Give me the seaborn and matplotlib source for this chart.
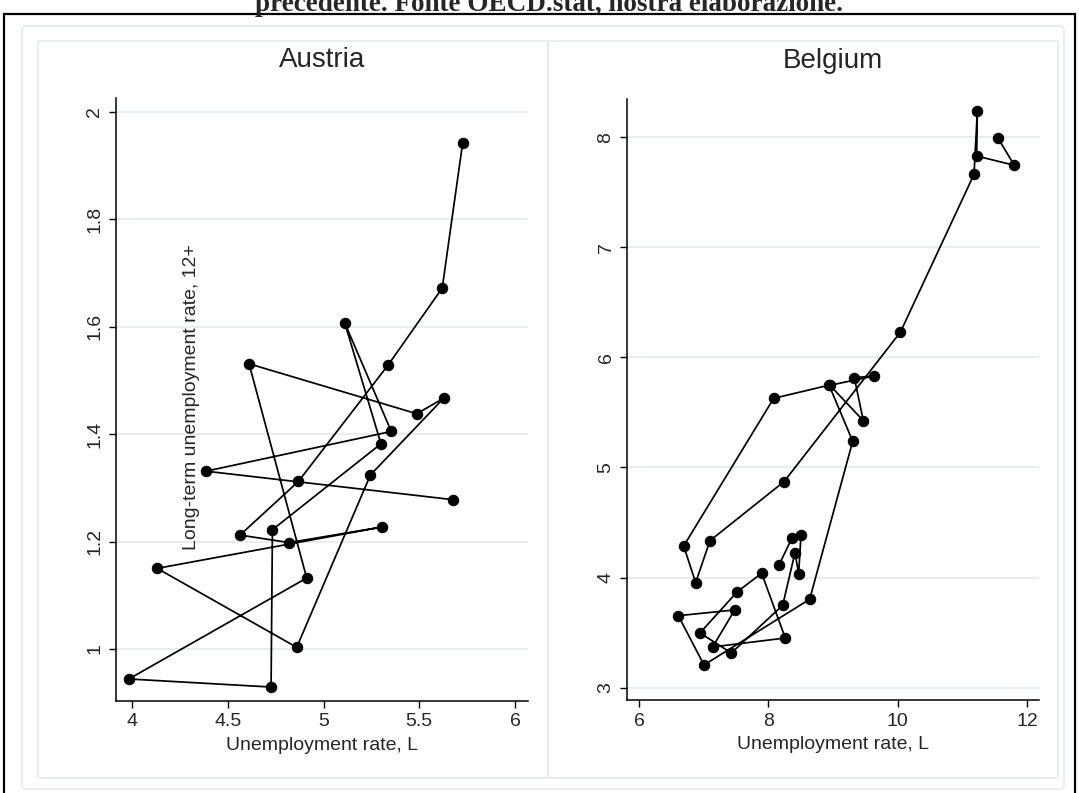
import numpy as np
import pandas as pd
import seaborn as sns
import matplotlib.pyplot as plt
from matplotlib.patches import Rectangle, FancyBboxPatch

# Data, in plotting order (connected scatter)
austria_unemp = [5.675, 4.386, 5.354, 5.111, 5.300, 4.733, 4.726, 3.983, 4.912, 4.611, 5.487,
                 5.628, 5.245, 4.860, 4.131, 5.305, 4.820, 4.564, 4.869, 5.338, 5.620, 5.727]
austria_ltu = [1.278, 1.331, 1.405, 1.607, 1.382, 1.222, 0.929, 0.944, 1.132, 1.531, 1.438,
               1.467, 1.324, 1.003, 1.150, 1.227, 1.198, 1.212, 1.312, 1.529, 1.672, 1.943]

belgium_unemp = [11.544, 11.801, 11.219, 11.229, 11.178, 10.039, 8.241, 7.097, 6.876, 6.691,
                 8.082, 8.947, 9.467, 9.328, 9.632, 8.940, 9.303, 8.638, 7.005, 6.608, 7.479,
                 7.139, 8.261, 7.896, 7.520, 6.943, 7.427, 8.221, 8.411, 8.468, 8.504, 8.365, 8.164]
belgium_ltu = [7.995, 7.745, 7.829, 8.235, 7.663, 6.228, 4.871, 4.335, 3.954, 4.287,
               5.628, 5.749, 5.425, 5.816, 5.831, 5.745, 5.238, 3.803, 3.206, 3.654, 3.706,
               3.370, 3.451, 4.039, 3.872, 3.497, 3.315, 3.748, 4.226, 4.035, 4.390, 4.360, 4.114]

austria_xticks = [4, 4.5, 5, 5.5, 6]
austria_xlabels = ['4', '4.5', '5', '5.5', '6']
austria_yticks = [1, 1.2, 1.4, 1.6, 1.8, 2]
austria_ylabels = ['1', '1.2', '1.4', '1.6', '1.8', '2']
belgium_xticks = [6, 8, 10, 12]
belgium_yticks = [3, 4, 5, 6, 7, 8]

title_text = 'precedente. Fonte OECD.stat, nostra elaborazione.'
xlabel_text = 'Unemployment rate, L'
ylabel_text = 'Long-term unemployment rate, 12+'

sns.set_style('white')
plt.rcParams['font.family'] = ['Liberation Sans', 'DejaVu Sans']

W, H = 1079, 793
fig = plt.figure(figsize=(W / 100, H / 100), dpi=100)

# frames around the graph
fig.patches.append(Rectangle((4 / W, -0.05), 1071 / W, 1.05 - 14 / H, transform=fig.transFigure,
                             fill=False, edgecolor='black', linewidth=1.6))
fig.patches.append(FancyBboxPatch((22 / W, 4 / H), 1042 / W, (H - 26 - 4) / H,
                                  boxstyle='round,pad=0,rounding_size=0.004', transform=fig.transFigure,
                                  fill=False, edgecolor='#e3ecee', linewidth=1.2))
for left in (38, 548):
    fig.patches.append(Rectangle((left / W, (H - 778) / H), 510 / W, (778 - 41) / H,
                                 transform=fig.transFigure, fill=False,
                                 edgecolor='#e3ecee', linewidth=1.2))

# the headline is cut by the top edge in the original too
fig.text(549 / W, 1 - 11 / H, title_text, ha='center', va='baseline',
         family=['Liberation Serif', 'DejaVu Serif'], fontweight='bold', fontsize=19.5)

ax1 = fig.add_axes([116 / W, 1 - 701 / H, 412 / W, 603 / H])
ax2 = fig.add_axes([627 / W, 1 - 700 / H, 412 / W, 601 / H])

panels = [
    (ax1, 'Austria', austria_unemp, austria_ltu, austria_xticks, austria_xlabels,
     austria_yticks, austria_ylabels, (3.916, 6.068), (0.903, 2.026)),
    (ax2, 'Belgium', belgium_unemp, belgium_ltu, belgium_xticks, [str(t) for t in belgium_xticks],
     belgium_yticks, [str(t) for t in belgium_yticks], (5.815, 12.182), (2.888, 8.347)),
]

for ax, name, xs, ys, xt, xl, yt, yl, xlim, ylim in panels:
    df = pd.DataFrame({'u': xs, 'ltu': ys})
    sns.lineplot(data=df, x='u', y='ltu', sort=False, estimator=None, ax=ax,
                 color='black', linewidth=1.25, marker='o', markersize=7.5,
                 markeredgecolor='black', markerfacecolor='black')
    ax.set_xlim(*xlim)
    ax.set_ylim(*ylim)
    ax.set_xticks(xt)
    ax.set_xticklabels(xl)
    ax.set_yticks(yt)
    ax.set_yticklabels(yl, rotation=90, va='center')
    ax.grid(axis='y', color='#e6eef0', linewidth=1.5)
    ax.set_axisbelow(True)
    for s in ('top', 'right'):
        ax.spines[s].set_visible(False)
    for s in ('left', 'bottom'):
        ax.spines[s].set_color('black')
        ax.spines[s].set_linewidth(1.1)
    ax.tick_params(direction='out', length=5, width=1, color='black',
                   labelsize=14, pad=4, left=True, bottom=True)
    ax.set_xlabel(xlabel_text, fontsize=14, labelpad=5)
    ax.set_ylabel('')
    ax.set_title(name, fontsize=20, pad=22)
    ax.set_facecolor('white')

# y title sits inside the Austria panel in the original
ax1.text(191 / W, 1 - 397 / H, ylabel_text, transform=fig.transFigure, rotation=90,
         ha='center', va='center', fontsize=14)

fig.savefig('out.png', dpi=100)
